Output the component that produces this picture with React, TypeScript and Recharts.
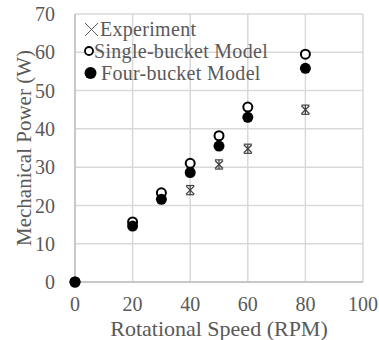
import { ScatterChart, Scatter, XAxis, YAxis, CartesianGrid, ErrorBar } from "recharts";

const rpmExperiment = [0, 40, 50, 60, 80];
const powerExperiment = [0, 24.0, 30.7, 34.8, 45.0];
const errorExperiment = [0, 1.2, 1.2, 1.2, 1.2];

const rpmModel = [0, 20, 30, 40, 50, 60, 80];
const powerSingle = [0, 15.7, 23.3, 31.0, 38.2, 45.7, 59.5];
const powerFour = [0, 14.6, 21.6, 28.6, 35.5, 43.0, 55.8];

const xTicks = [0, 20, 40, 60, 80, 100];
const yTicks = [0, 10, 20, 30, 40, 50, 60, 70];

const legendNames = ["Experiment", "Single-bucket Model", "Four-bucket Model"];

const experimentData = rpmExperiment.map((x, i) => ({ x, y: powerExperiment[i], err: errorExperiment[i] }));
const singleData = rpmModel.map((x, i) => ({ x, y: powerSingle[i] }));
const fourData = rpmModel.map((x, i) => ({ x, y: powerFour[i] }));

const FONT = '"Liberation Serif", "Times New Roman", serif';
const TEXT = "#595959";
const MARK_GREY = "#404040";

function CrossShape(props: any) {
  const { cx, cy } = props;
  const s = 4;
  return (
    <g stroke={MARK_GREY} strokeWidth={1.2}>
      <line x1={cx - s} y1={cy - s} x2={cx + s} y2={cy + s} />
      <line x1={cx - s} y1={cy + s} x2={cx + s} y2={cy - s} />
    </g>
  );
}

function OpenCircle(props: any) {
  const { cx, cy } = props;
  return <circle cx={cx} cy={cy} r={4.5} fill="#fff" stroke="#000" strokeWidth={2} />;
}

function FilledCircle(props: any) {
  const { cx, cy } = props;
  return <circle cx={cx} cy={cy} r={5.5} fill="#000" />;
}

// legend drawn as an overlay so recharts doesn't shrink the plot for it
function LegendBox() {
  const icons = [
    <svg width={16} height={16} key="x">
      <g stroke="#595959" strokeWidth={1}>
        <line x1={1} y1={2} x2={14} y2={15} />
        <line x1={1} y1={15} x2={14} y2={2} />
      </g>
    </svg>,
    <svg width={10} height={16} key="o">
      <circle cx={5} cy={8} r={4} fill="#fff" stroke="#000" strokeWidth={1.8} />
    </svg>,
    <svg width={16} height={16} key="f">
      <circle cx={6.5} cy={8} r={6} fill="#000" />
    </svg>,
  ];
  const gaps = [0, 0, 1];
  return (
    <div
      style={{
        position: "absolute",
        left: 84,
        top: 18,
        fontFamily: FONT,
        fontSize: 20,
        color: TEXT,
        lineHeight: "22px",
        pointerEvents: "none",
      }}
    >
      {legendNames.map((name, i) => (
        <div key={name} style={{ display: "flex", alignItems: "center", height: 22, whiteSpace: "nowrap" }}>
          {icons[i]}
          <span style={{ marginLeft: gaps[i], letterSpacing: 0.3 }}>{name}</span>
        </div>
      ))}
    </div>
  );
}

export default function App() {
  return (
    <div style={{ position: "absolute", left: 0, top: 0, width: 379, height: 340, background: "#fff" }}>
      <ScatterChart width={379} height={340} margin={{ top: 14, right: 16, bottom: 0, left: 0 }}>
        <CartesianGrid stroke="#d9d9d9" strokeWidth={1.5} />
        <XAxis
          type="number"
          dataKey="x"
          domain={[0, 100]}
          ticks={xTicks}
          height={58}
          stroke="#bfbfbf"
          strokeWidth={1.5}
          tickLine={false}
          tickSize={6}
          tickMargin={9}
          tick={{ fill: TEXT, fontSize: 20, fontFamily: FONT }}
          label={{ value: "Rotational Speed (RPM)", position: "center", dy: 17, fill: TEXT, fontSize: 22, fontFamily: FONT }}
        />
        <YAxis
          type="number"
          dataKey="y"
          domain={[0, 70]}
          ticks={yTicks}
          width={75}
          stroke="#bfbfbf"
          strokeWidth={1.5}
          tickLine={false}
          tickSize={6}
          tickMargin={14}
          tick={{ fill: TEXT, fontSize: 20, fontFamily: FONT }}
          label={{ value: "Mechanical Power (W)", angle: -90, position: "center", dx: -14, fill: TEXT, fontSize: 21, fontFamily: FONT }}
        />
        <Scatter name="Experiment" data={experimentData} shape={CrossShape} isAnimationActive={false}>
          <ErrorBar dataKey="err" direction="y" width={4} stroke={MARK_GREY} strokeWidth={1.2} isAnimationActive={false} />
        </Scatter>
        <Scatter name="Single-bucket Model" data={singleData} shape={OpenCircle} isAnimationActive={false} />
        <Scatter name="Four-bucket Model" data={fourData} shape={FilledCircle} isAnimationActive={false} />
      </ScatterChart>
      <LegendBox />
    </div>
  );
}
